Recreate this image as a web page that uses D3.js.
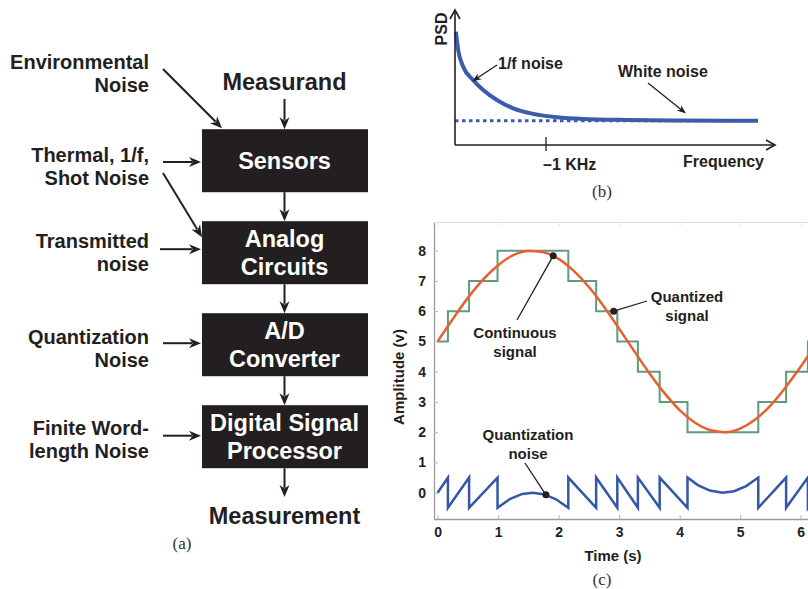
<!DOCTYPE html>
<html>
<head>
<meta charset="utf-8">
<script src="https://cdn.jsdelivr.net/npm/d3@7"></script>
<style>
  body { margin: 0; background: #fff; }
  svg text { font-family: "Liberation Sans", Arial, sans-serif; font-weight: bold; fill: #231f20; }
  svg text.caption { font-family: "Liberation Serif", "Times New Roman", serif; font-weight: normal; fill: #333; }
</style>
</head>
<body>
<div id="viz"></div>
<script>
// ---- (a) block diagram ----
const blockNames = [['Sensors'], ['Analog', 'Circuits'], ['A/D', 'Converter'], ['Digital Signal', 'Processor']]
const noiseSources = [['Environmental', 'Noise'], ['Thermal, 1/f,', 'Shot Noise'], ['Transmitted', 'noise'], ['Quantization', 'Noise'], ['Finite Word-', 'length Noise']]
const inputLabel = 'Measurand'
const outputLabel = 'Measurement'

// ---- (b) power spectral density (kHz, relative PSD) ----
const psdFreq = [0.01, 0.035, 0.09, 0.2, 0.31, 0.46, 0.64, 0.86, 1.12, 1.41, 1.9, 2.5, 3.33]
const psdValue = [4.66, 3.91, 3.22, 2.67, 2.26, 1.85, 1.51, 1.28, 1.14, 1.07, 1.03, 1.01, 1.0]
const whiteLevel = 1
const psdTickLabel = '–1 KHz'

// ---- (c) quantization ----
const timeTicks = [0, 1, 2, 3, 4, 5, 6]
const ampTicks = [0, 1, 2, 3, 4, 5, 6, 7, 8]
const signalTime = [0, 0.25, 0.5, 0.75, 1, 1.25, 1.5, 1.75, 2, 2.25, 2.5, 2.75, 3, 3.25, 3.5, 3.75, 4, 4.25, 4.5, 4.75, 5, 5.25, 5.5, 5.75, 6, 6.25, 6.5]
const signalValue = [5.0, 5.74, 6.44, 7.04, 7.52, 7.85, 7.99, 7.95, 7.73, 7.33, 6.8, 6.15, 5.42, 4.68, 3.95, 3.29, 2.73, 2.32, 2.07, 2.0, 2.12, 2.42, 2.88, 3.48, 4.16, 4.9, 5.65]
const stepTime = [0, 0.17, 0.52, 0.99, 2.16, 2.62, 2.97, 3.31, 3.67, 4.13, 5.3, 5.76, 6.12, 6.45, 6.6]
const stepLevel = [5, 6, 7, 8, 7, 6, 5, 4, 3, 2, 3, 4, 5, 6, 6]
const noiseTime = [0, 0.17, 0.17, 0.52, 0.52, 0.99, 0.99, 1.2, 1.4, 1.57, 1.75, 1.95, 2.16, 2.16, 2.62, 2.62, 2.97, 2.97, 3.31, 3.31, 3.67, 3.67, 4.13, 4.13, 4.3, 4.5, 4.71, 4.9, 5.1, 5.3, 5.3, 5.76, 5.76, 6.12, 6.12, 6.45]
const noiseValue = [0, 0.5, -0.5, 0.5, -0.5, 0.5, -0.5, -0.2, -0.04, 0, -0.05, -0.21, -0.5, 0.5, -0.5, 0.5, -0.5, 0.5, -0.5, 0.5, -0.5, 0.5, -0.5, 0.5, 0.25, 0.07, 0, 0.05, 0.22, 0.5, -0.5, 0.5, -0.5, 0.5, -0.5, 0.5]

const ink = '#231f20'

const svg = d3.select('#viz')
  .append('svg')
  .attr('width', 808)
  .attr('height', 589)

svg.append('rect').attr('width', 808).attr('height', 589).attr('fill', '#fff')

/**
 * Draws a straight arrow with a notched filled head.
 */
function arrow (g, x1, y1, x2, y2, len = 12, half = 5, width = 2) {
  const a = Math.atan2(y2 - y1, x2 - x1)
  const c = Math.cos(a)
  const s = Math.sin(a)
  g.append('line')
    .attr('x1', x1).attr('y1', y1)
    .attr('x2', x2 - (len - 3) * c).attr('y2', y2 - (len - 3) * s)
    .attr('stroke', ink)
    .attr('stroke-width', width)
  const bx = x2 - len * c
  const by = y2 - len * s
  const nx = x2 - len * 0.7 * c
  const ny = y2 - len * 0.7 * s
  g.append('path')
    .attr('d', `M${x2},${y2}L${bx + half * s},${by - half * c}L${nx},${ny}L${bx - half * s},${by + half * c}Z`)
    .attr('fill', ink)
}

/**
 * Draws an axis arrow with an open chevron head.
 */
function axisArrow (g, x1, y1, x2, y2) {
  const a = Math.atan2(y2 - y1, x2 - x1)
  const c = Math.cos(a)
  const s = Math.sin(a)
  g.append('line')
    .attr('x1', x1).attr('y1', y1).attr('x2', x2).attr('y2', y2)
    .attr('stroke', ink).attr('stroke-width', 1.6)
  const len = 9
  const half = 5
  g.append('path')
    .attr('d', `M${x2 - len * c + half * s},${y2 - len * s - half * c}L${x2},${y2}L${x2 - len * c - half * s},${y2 - len * s + half * c}`)
    .attr('fill', 'none').attr('stroke', ink).attr('stroke-width', 1.6)
}

// ================= (a) =================
const ga = svg.append('g')
const blockX = 202
const blockW = 166
const blockH = 63
const blockCx = blockX + blockW / 2 - 0.5
const blockY = d3.scaleLinear().domain([0, 3]).range([160.7, 436.7])
const lineGap = 27.5

const blocks = ga.selectAll('g.block')
  .data(blockNames)
  .join('g')
  .attr('class', 'block')

blocks.append('rect')
  .attr('x', blockX)
  .attr('y', (d, i) => blockY(i) - blockH / 2)
  .attr('width', blockW)
  .attr('height', blockH)
  .attr('fill', ink)

blocks.each(function (lines, i) {
  const top = blockY(i) - (lines.length - 1) * lineGap / 2 + 8.2
  d3.select(this).selectAll('text')
    .data(lines)
    .join('text')
    .attr('x', blockCx)
    .attr('y', (d, j) => top + j * lineGap)
    .attr('text-anchor', 'middle')
    .attr('font-size', 23.5)
    .style('fill', '#fff')
    .text(d => d)
})

// vertical flow arrows
arrow(ga, blockCx, 99, blockCx, blockY(0) - blockH / 2)
for (let i = 0; i < blockNames.length - 1; i++) {
  arrow(ga, blockCx, blockY(i) + blockH / 2, blockCx, blockY(i + 1) - blockH / 2)
}
arrow(ga, blockCx, blockY(3) + blockH / 2, blockCx, 497)

ga.append('text')
  .attr('x', blockCx).attr('y', 90)
  .attr('text-anchor', 'middle').attr('font-size', 23.5)
  .text(inputLabel)
ga.append('text')
  .attr('x', blockCx).attr('y', 524)
  .attr('text-anchor', 'middle').attr('font-size', 23.5)
  .text(outputLabel)

// noise sources on the left
const sourceY = [73.3, 166, 252.5, 348.3, 439.5]
const sources = ga.selectAll('g.source')
  .data(noiseSources)
  .join('g')
  .attr('class', 'source')
sources.each(function (lines, i) {
  d3.select(this).selectAll('text')
    .data(lines)
    .join('text')
    .attr('x', 149)
    .attr('y', (d, j) => sourceY[i] - 4.5 + j * 23)
    .attr('text-anchor', 'end')
    .attr('font-size', 20)
    .text(d => d)
})

const top0 = blockY(0) - blockH / 2
const top1 = blockY(1) - blockH / 2
arrow(ga, 163, 69, blockX + 20, top0 - 1)
arrow(ga, 163, 162, blockX - 1, 162)
arrow(ga, 163, 173, blockX, top1 + 16)
arrow(ga, 160, blockY(1) - 3.5, blockX - 1, blockY(1) - 3.5)
arrow(ga, 163, blockY(2) - 1.5, blockX - 1, blockY(2) - 1.5)
arrow(ga, 163, blockY(3) - 1, blockX - 1, blockY(3) - 1)

ga.append('text').attr('class', 'caption')
  .attr('x', 182).attr('y', 549)
  .attr('text-anchor', 'middle').attr('font-size', 17)
  .text('(a)')

// ================= (b) =================
const gb = svg.append('g')
const fx = d3.scaleLinear().domain([0, 1]).range([455, 546])
const py = d3.scaleLinear().domain([0, 1]).range([145, 120.7])
const psdBlue = '#3b5cab'

gb.append('line')
  .attr('x1', fx(0)).attr('x2', fx(3.33))
  .attr('y1', py(whiteLevel)).attr('y2', py(whiteLevel))
  .attr('stroke', psdBlue).attr('stroke-width', 3)
  .attr('stroke-dasharray', '3.5,3.5')

const psdLine = d3.line()
  .x((d, i) => fx(psdFreq[i]))
  .y(d => py(d))
  .curve(d3.curveMonotoneX)

gb.append('path')
  .attr('d', psdLine(psdValue))
  .attr('fill', 'none')
  .attr('stroke', psdBlue)
  .attr('stroke-width', 4)

axisArrow(gb, fx(0), py(0), fx(0), 10)
axisArrow(gb, fx(0), py(0), 775, py(0))
gb.append('line')
  .attr('x1', fx(1)).attr('x2', fx(1))
  .attr('y1', 137).attr('y2', 151)
  .attr('stroke', ink).attr('stroke-width', 1.3)

gb.append('text')
  .attr('transform', `translate(447, 29) rotate(-90)`)
  .attr('text-anchor', 'middle').attr('font-size', 16)
  .text('PSD')
gb.append('text')
  .attr('x', fx(1) - 3).attr('y', 170)
  .attr('font-size', 16)
  .text(psdTickLabel)
gb.append('text')
  .attr('x', 764).attr('y', 167)
  .attr('text-anchor', 'end').attr('font-size', 16)
  .text('Frequency')
gb.append('text')
  .attr('x', 498).attr('y', 69)
  .attr('font-size', 16)
  .text('1/f noise')
gb.append('text')
  .attr('x', 618).attr('y', 77)
  .attr('font-size', 16)
  .text('White noise')

function thinArrow (g, x1, y1, x2, y2) {
  arrow(g, x1, y1, x2, y2, 9, 3.5, 1.3)
}
thinArrow(gb, 497, 65, fx(0.19), py(2.62))
thinArrow(gb, 648, 83, 686, 113.5)

gb.append('text').attr('class', 'caption')
  .attr('x', 602).attr('y', 197)
  .attr('text-anchor', 'middle').attr('font-size', 17)
  .text('(b)')

// ================= (c) =================
const gc = svg.append('g')
const tx = d3.scaleLinear().domain([-0.06, 6.3]).range([434, 434 + 6.36 * 60.5])
const ay = d3.scaleLinear().domain([-0.87, 8.95]).range([519, 519 - 9.82 * 30.25])

const xAxis = gc.append('g')
  .attr('transform', `translate(0, ${ay(-0.87)})`)
  .call(d3.axisBottom(tx).tickValues(timeTicks).tickFormat(d3.format('d')).tickSizeInner(-4).tickSizeOuter(0).tickPadding(8))
const yAxis = gc.append('g')
  .attr('transform', `translate(${tx(-0.06)}, 0)`)
  .call(d3.axisLeft(ay).tickValues(ampTicks).tickFormat(d3.format('d')).tickSizeInner(-4).tickSizeOuter(0).tickPadding(8))
const topAxis = gc.append('g')
  .attr('transform', `translate(0, ${ay(8.95)})`)
  .call(d3.axisTop(tx).tickValues(timeTicks).tickSizeInner(-4).tickSizeOuter(0).tickFormat(''))

for (const ax of [xAxis, yAxis]) {
  ax.select('.domain').attr('stroke', '#9a9a9a').attr('stroke-width', 1.3)
  ax.selectAll('.tick line').attr('stroke', '#b5b5b5')
  ax.selectAll('.tick text')
    .attr('font-size', 14)
    .attr('font-family', '"Liberation Sans", Arial, sans-serif')
    .attr('font-weight', 'bold')
    .attr('fill', ink)
}
topAxis.select('.domain').attr('stroke', '#dcdcdc')
topAxis.selectAll('.tick line').attr('stroke', '#e6e6e6')

const stepLine = d3.line()
  .x((d, i) => tx(stepTime[i]))
  .y(d => ay(d))
  .curve(d3.curveStepAfter)
gc.append('path')
  .attr('d', stepLine(stepLevel))
  .attr('fill', 'none')
  .attr('stroke', '#5f9c7c')
  .attr('stroke-width', 2)

const signalLine = d3.line()
  .x((d, i) => tx(signalTime[i]))
  .y(d => ay(d))
  .curve(d3.curveMonotoneX)
gc.append('path')
  .attr('d', signalLine(signalValue))
  .attr('fill', 'none')
  .attr('stroke', '#e8602f')
  .attr('stroke-width', 2.5)

const noiseLine = d3.line()
  .x((d, i) => tx(noiseTime[i]))
  .y(d => ay(d))
gc.append('path')
  .attr('d', noiseLine(noiseValue))
  .attr('fill', 'none')
  .attr('stroke', '#3557a6')
  .attr('stroke-width', 2.5)
  .attr('stroke-linejoin', 'miter')

// annotations
const notes = [
  { lines: ['Continuous', 'signal'], x: 515, y: 338, from: [517, 320], at: [1.91, 7.83] },
  { lines: ['Quantized', 'signal'], x: 687, y: 302, from: [647, 301], at: [2.91, 6] },
  { lines: ['Quantization', 'noise'], x: 528, y: 440, from: [525, 463], at: [1.79, -0.07] }
]
const note = gc.selectAll('g.note')
  .data(notes)
  .join('g')
  .attr('class', 'note')
note.append('line')
  .attr('x1', d => d.from[0]).attr('y1', d => d.from[1])
  .attr('x2', d => tx(d.at[0])).attr('y2', d => ay(d.at[1]))
  .attr('stroke', ink).attr('stroke-width', 1.3)
note.append('circle')
  .attr('cx', d => tx(d.at[0])).attr('cy', d => ay(d.at[1]))
  .attr('r', 3.5).attr('fill', ink)
note.each(function (d) {
  d3.select(this).selectAll('text')
    .data(d.lines)
    .join('text')
    .attr('x', d.x)
    .attr('y', (t, j) => d.y + j * 19)
    .attr('text-anchor', 'middle')
    .attr('font-size', 15)
    .text(t => t)
})

gc.append('text')
  .attr('transform', `translate(404, 377) rotate(-90)`)
  .attr('text-anchor', 'middle').attr('font-size', 15)
  .text('Amplitude (v)')
gc.append('text')
  .attr('x', 613).attr('y', 561)
  .attr('text-anchor', 'middle').attr('font-size', 15)
  .text('Time (s)')
gc.append('text').attr('class', 'caption')
  .attr('x', 602).attr('y', 585)
  .attr('text-anchor', 'middle').attr('font-size', 17)
  .text('(c)')
</script>
</body>
</html>
